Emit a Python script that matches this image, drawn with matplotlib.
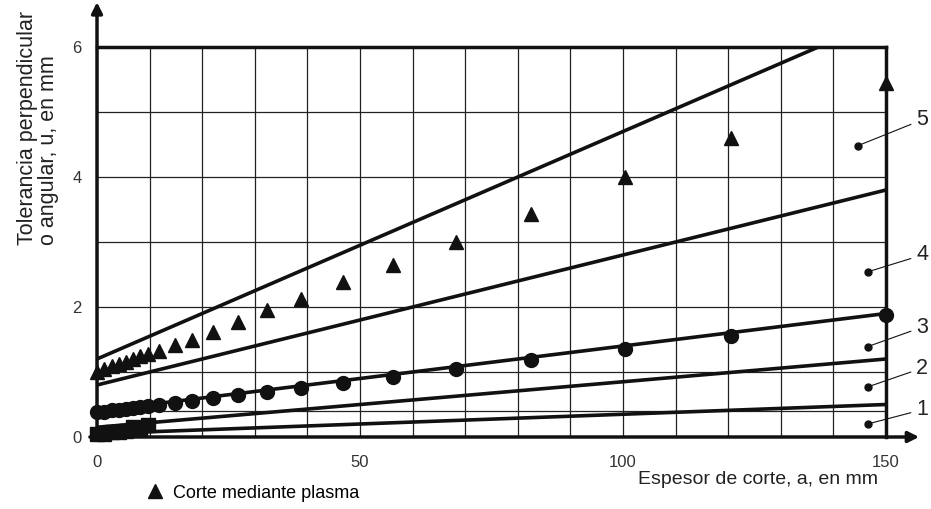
import numpy as np
import matplotlib
matplotlib.use("Agg")
import matplotlib.pyplot as plt

plt.rcParams["font.family"] = ["Liberation Sans", "DejaVu Sans"]

# Espesor de corte a (mm) de los puntos medidos
espesor = [0, 1.3, 2.9, 4.2, 5.5, 6.9, 8.2, 9.7, 11.8, 14.9, 18.1, 22.1,
           26.9, 32.4, 38.7, 46.7, 56.2, 68.2, 82.5, 100.4, 120.6, 150]
# Corte mediante plasma (triangulos)
u_plasma = [1.0, 1.05, 1.09, 1.13, 1.16, 1.2, 1.24, 1.28, 1.33, 1.42, 1.5, 1.62,
            1.77, 1.96, 2.13, 2.39, 2.65, 3.0, 3.43, 4.0, 4.6, 5.45]
# Puntos circulares (sobre la recta 3)
u_circulos = [0.38, 0.39, 0.41, 0.42, 0.43, 0.45, 0.46, 0.48, 0.5, 0.53, 0.56, 0.6,
              0.64, 0.7, 0.76, 0.83, 0.92, 1.04, 1.18, 1.36, 1.56, 1.88]
# Puntos cuadrados (espesores pequenos)
espesor_cuad = [0, 1.3, 2.9, 4.2, 5.5, 6.9, 8.2, 9.7]
u_cuad = [0.04, 0.05, 0.07, 0.08, 0.1, 0.16, 0.12, 0.18]

# Rectas de los campos 1..5 (extremos en a = 0 y a = 150)
rectas_x = [0, 150]
rectas_u = {
    "1": [0.05, 0.5],
    "2": [0.15, 1.2],
    "3": [0.4, 1.9],
    "4": [0.8, 3.8],
    "5": [1.2, 6.45],
}
# Marcas de los campos: punto dentro del campo y posicion del numero
campo_punto_x = [146.5, 146.5, 146.5, 146.5, 144.6]
campo_punto_u = [0.2, 0.77, 1.39, 2.54, 4.48]
campo_texto_x = [156.9, 156.9, 156.9, 156.9, 156.9]
campo_texto_u = [0.42, 1.06, 1.69, 2.8, 4.88]

negro = "#111111"

fig = plt.figure(figsize=(9.31, 5.09), dpi=100)
ax = fig.add_axes([97 / 931, 72 / 509, 789 / 931, 390 / 509])

""" Rectas y puntos """
for nombre, valores in rectas_u.items():
    ax.plot(rectas_x, valores, color=negro, lw=2.6, solid_capstyle="butt", zorder=3)

ax.plot(espesor, u_circulos, "o", color=negro, ms=10, zorder=4, clip_on=False)
ax.plot(espesor_cuad, u_cuad, "s", color=negro, ms=10, zorder=4, clip_on=False)
tri, = ax.plot(espesor, u_plasma, "^", color=negro, ms=10, zorder=4, clip_on=False,
               label="Corte mediante plasma")

""" Ejes y rejilla """
ax.set_xlim(0, 150)
ax.set_ylim(0, 6)
ax.set_xticks([0, 50, 100, 150])
ax.set_xticks(np.arange(10, 150, 10), minor=True)
ax.set_yticks([0, 2, 4, 6])
ax.set_yticks([0.4, 1, 3, 5], minor=True)
ax.grid(which="both", color="#222222", lw=0.9)
ax.set_axisbelow(True)
ax.tick_params(which="both", length=0, labelsize=12, labelcolor="#333333")
ax.tick_params(axis="x", pad=13)
ax.tick_params(axis="y", pad=11)

for lado in ["top", "right"]:
    ax.spines[lado].set_linewidth(2.5)
    ax.spines[lado].set_color(negro)
ax.spines["left"].set_visible(False)
ax.spines["bottom"].set_visible(False)

# Flechas de los ejes
flecha = dict(arrowstyle="-|>", lw=2.5, color=negro, mutation_scale=16,
              shrinkA=0, shrinkB=0)
ax.annotate("", xy=(0, 1.115), xytext=(0, -0.003), xycoords="axes fraction",
            arrowprops=flecha, annotation_clip=False)
ax.annotate("", xy=(1.042, 0), xytext=(-0.009, 0), xycoords="axes fraction",
            arrowprops=flecha, annotation_clip=False)

""" Numeros de los campos """
for i in range(5):
    ax.plot(campo_punto_x[i], campo_punto_u[i], "o", color=negro, ms=5, zorder=5)
    ax.annotate(str(i + 1), xy=(campo_punto_x[i], campo_punto_u[i]),
                xytext=(campo_texto_x[i], campo_texto_u[i]),
                fontsize=15.5, color="#222222", ha="center", va="center",
                arrowprops=dict(arrowstyle="-", lw=0.8, color=negro,
                                shrinkA=2, shrinkB=0),
                annotation_clip=False)

""" Textos """
ax.set_xlabel("Espesor de corte, a, en mm", fontsize=14, color="#222222",
              ha="right", va="center")
ax.xaxis.set_label_coords(0.99, -0.108)
ax.set_ylabel("Tolerancia perpendicular\no angular, u, en mm", fontsize=15.5,
              color="#222222", multialignment="left", ha="left", va="center",
              rotation_mode="anchor", linespacing=1.0)
ax.yaxis.set_label_coords(-0.0754, 0.492)

ax.legend(handles=[tri], loc="center left", frameon=False, fontsize=13,
          bbox_to_anchor=(146 / 931, 16 / 509), bbox_transform=fig.transFigure,
          handlelength=1.0, handletextpad=0.5, borderpad=0, borderaxespad=0)

fig.savefig("out.png", dpi=100)
